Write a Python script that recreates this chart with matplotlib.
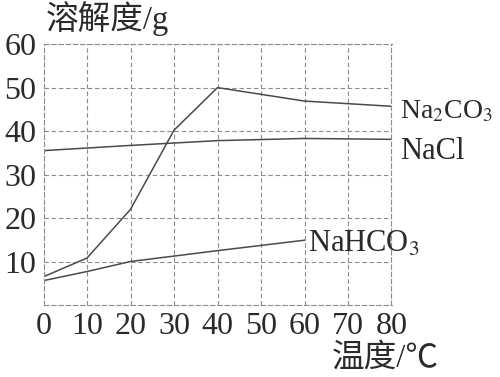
import matplotlib
matplotlib.use('Agg')
import matplotlib.pyplot as plt

# solubility data
temps_na2co3 = [0, 10, 20, 30, 40, 60, 80]
sol_na2co3 = [6.5, 10.8, 22, 40.2, 50, 46.9, 45.7]

temps_nacl = [0, 20, 40, 60, 80]
sol_nacl = [35.5, 36.7, 37.8, 38.3, 38.1]

temps_nahco3 = [0, 10, 20, 40, 60]
sol_nahco3 = [5.6, 7.7, 10.0, 12.5, 14.9]

x_ticks = [0, 10, 20, 30, 40, 50, 60, 70, 80]
y_ticks = [10, 20, 30, 40, 50, 60]

plt.rcParams['font.family'] = ['Liberation Serif', 'Noto Sans CJK SC']
plt.rcParams['mathtext.fontset'] = 'stix'

fig = plt.figure(figsize=(5, 3.77), dpi=100)
ax = fig.add_axes([0.087, 0.191, 0.696, 0.692])

line_color = '#4a4a4a'
ax.plot(temps_na2co3, sol_na2co3, color=line_color, lw=1.1)
ax.plot(temps_nacl, sol_nacl, color=line_color, lw=1.1)
ax.plot(temps_nahco3, sol_nahco3, color=line_color, lw=1.1)

ax.set_xlim(0, 80)
ax.set_ylim(0, 60)
ax.set_xticks(x_ticks)
ax.set_yticks(y_ticks)
ax.grid(True, color='#8c8c8c', linestyle=(0, (4, 2.5)), lw=0.8)
for s in ax.spines.values():
    s.set_color('#8c8c8c')
    s.set_linestyle((0, (4, 2.5)))
    s.set_linewidth(0.8)
ax.tick_params(length=0, labelsize=23, colors='#2a2a2a', pad=5)

text_color = '#2a2a2a'
fig.text(0.092, 0.95, '溶解度/g', fontsize=23.5, color=text_color,
         ha='left', va='center')
fig.text(0.77, 0.05, '温度/℃', fontsize=23.5, color=text_color,
         ha='center', va='center')

ax.text(82, 44.4, r'Na$_2$CO$_3$', fontsize=20, color=text_color,
        ha='left', va='center', clip_on=False)
ax.text(82, 35.2, 'NaCl', fontsize=22, color=text_color,
        ha='left', va='center', clip_on=False)
ax.text(60.8, 14.0, r'NaHCO$_3$', fontsize=22, color=text_color,
        ha='left', va='center', clip_on=False)

fig.savefig('out.png', dpi=100)
